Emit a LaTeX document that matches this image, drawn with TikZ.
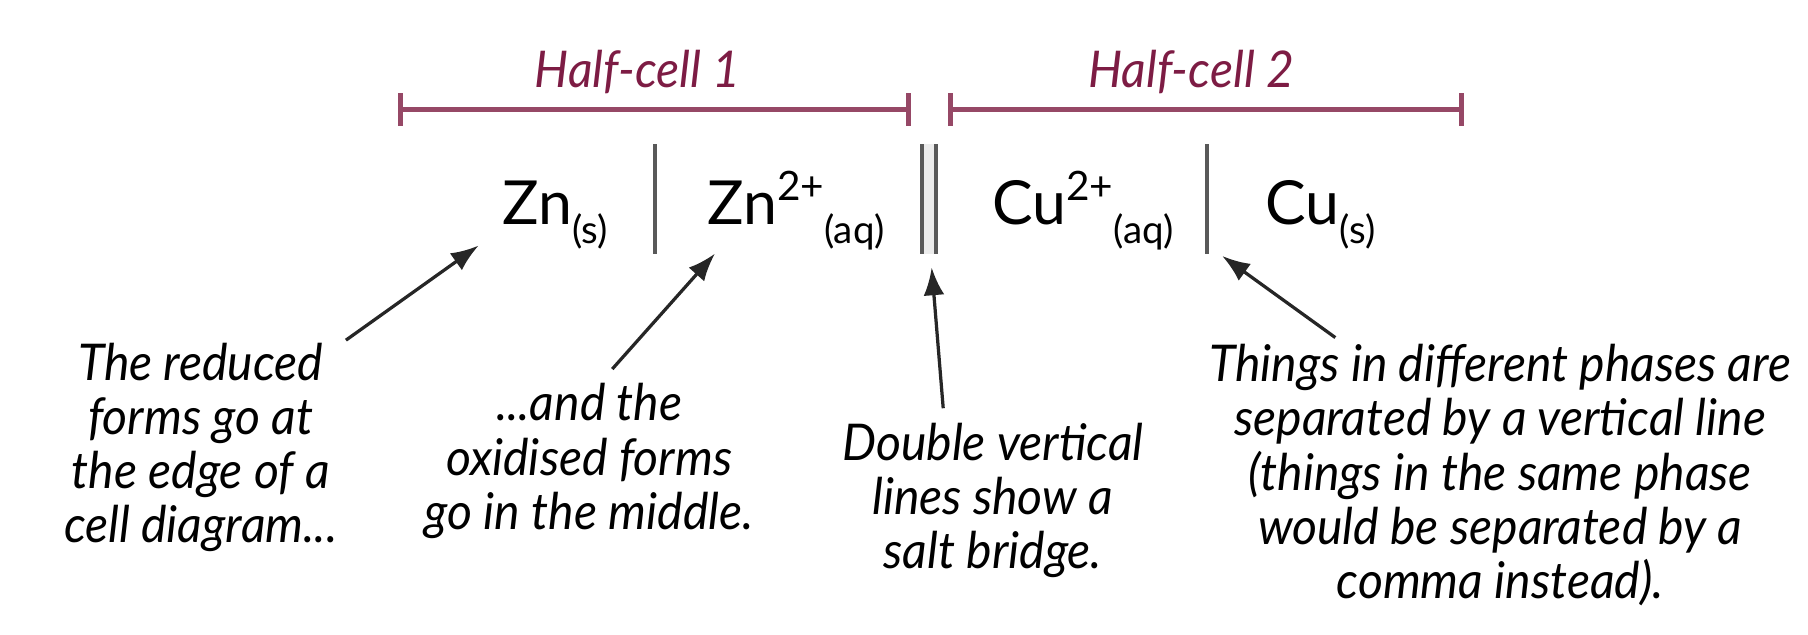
\documentclass[tikz,border=0pt]{standalone}
\usepackage{fontspec}
\setmainfont{Lato}
\newfontfamily\notefont{Lato}[FakeStretch=0.95]
\usetikzlibrary{arrows.meta}
\definecolor{cellred}{RGB}{125,28,68}
\definecolor{barred}{RGB}{150,72,102}
\newcommand\phasesub[1]{\raisebox{-0.62ex}{\fontsize{9.5}{9.5}\selectfont(#1)}}
\newcommand\chargesup[1]{\raisebox{0.78ex}{\fontsize{10}{10}\selectfont#1}}
\begin{document}
\begin{tikzpicture}[
  note/.style={align=center,font=\notefont\itshape\fontsize{12.5}{13.4}\selectfont,inner sep=0pt},
  chem/.style={anchor=base west,inner sep=0pt,font=\fontsize{15}{17}\selectfont},
  phase/.style={gray!70!black,line width=1pt},
  cellbar/.style={barred,line width=1.3pt,{Bar[width=2.8mm]}-{Bar[width=2.8mm]}},
  pointer/.style={gray!30!black,line width=0.8pt,-{Latex[length=2.4mm,width=1.8mm]}}]
\useasboundingbox (0,0) rectangle (15.68,-5.50);
\draw[cellbar] (3.45,-0.95) -- (7.90,-0.95);
\draw[cellbar] (8.22,-0.95) -- (12.70,-0.95);
\node[note,text=cellred] (hc1) at (5.53,-0.62) {Half-cell 1};
\node[note,text=cellred] (hc2) at (10.33,-0.62) {Half-cell 2};
\node[chem] (zns) at (4.35,-1.95) {Zn\phasesub{s}};
\node[chem] (znaq) at (6.13,-1.95) {Zn\chargesup{2+}\phasesub{aq}};
\node[chem] (cuaq) at (8.60,-1.95) {Cu\chargesup{2+}\phasesub{aq}};
\node[chem] (cus) at (10.97,-1.95) {Cu\phasesub{s}};
\draw[phase] (5.68,-1.25) -- (5.68,-2.20);
\fill[gray!15] (8.00,-1.25) rectangle (8.12,-2.20);
\draw[phase] (8.00,-1.25) -- (8.00,-2.20);
\draw[phase] (8.12,-1.25) -- (8.12,-2.20);
\draw[phase] (10.47,-1.25) -- (10.47,-2.20);
\node[note] (reduced) at (1.74,-3.88) {The reduced\\forms go at\\the edge of a\\cell diagram...};
\node[note] (oxid) at (5.11,-4.00) {...and the\\oxidised forms\\go in the middle.};
\node[note] (bridge) at (8.61,-4.34) {Double vertical\\lines show a\\salt bridge.};
\node[note] (phases) at (13.01,-4.12) {Things in different phases are\\separated by a vertical line\\(things in the same phase\\would be separated by a\\comma instead).};
\coordinate (t1) at (4.15,-2.13);
\coordinate (t2) at (6.20,-2.20);
\coordinate (t3) at (8.08,-2.32);
\coordinate (t4) at (10.60,-2.22);
\draw[pointer] (3.00,-2.95) -- (t1);
\draw[pointer] ([shift={(0.2,0.12)}]oxid.north) -- (t2);
\draw[pointer] ([shift={(-0.43,0.12)}]bridge.north) -- (t3);
\draw[pointer] ([shift={(1.10,0.05)}]phases.north west) -- (t4);
\end{tikzpicture}
\end{document}
